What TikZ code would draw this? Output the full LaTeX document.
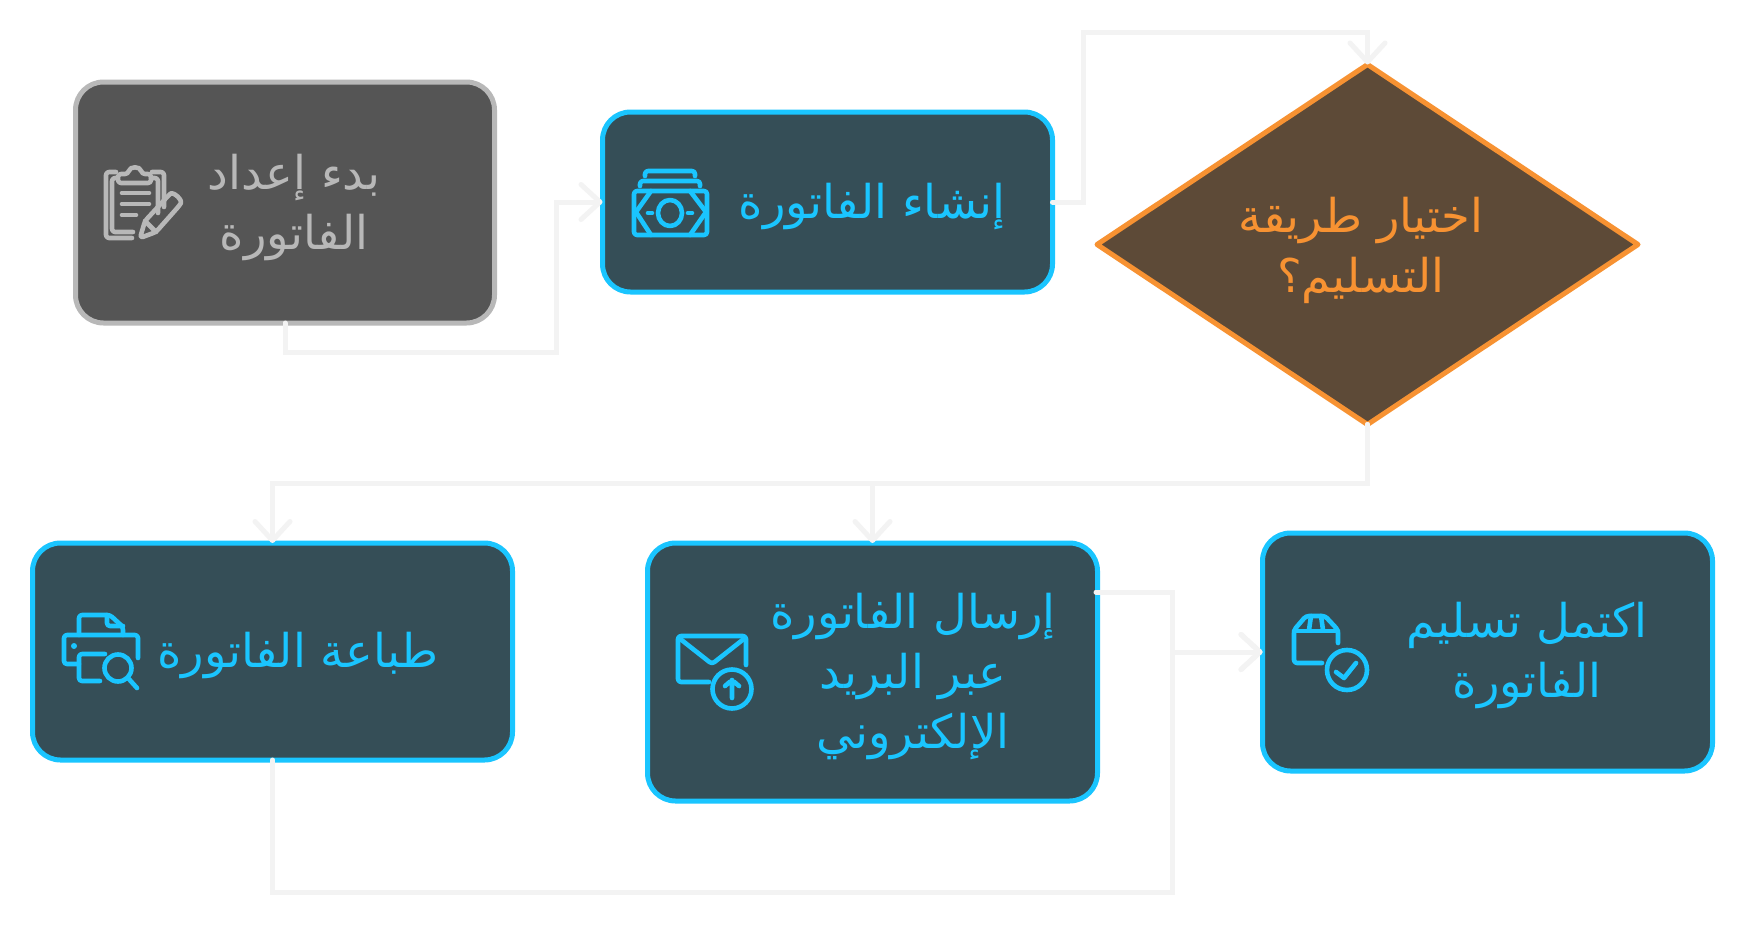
\documentclass[tikz,border=0pt]{standalone}
\usepackage{fontspec}
\usetikzlibrary{shapes.geometric,arrows.meta,calc}
\TeXXeTstate=1
\newfontfamily\arabicfont[Script=Arabic]{DejaVu Sans}
\newcommand{\arln}[1]{\beginR #1\endR}
\definecolor{linkc}{HTML}{F3F3F3}
\definecolor{graybg}{HTML}{555555}
\definecolor{graysk}{HTML}{B8B8B8}
\definecolor{bluebg}{HTML}{354E57}
\definecolor{bluesk}{HTML}{1AC5FF}
\definecolor{orgbg}{HTML}{5D4A37}
\definecolor{orgsk}{HTML}{F79232}
\tikzset{
 boxbase/.style={rectangle,rounded corners=28pt,inner sep=0pt,outer sep=0pt,line width=5pt},
 bluebox/.style={boxbase,draw=bluesk,fill=bluebg},
 graybox/.style={boxbase,draw=graysk,fill=graybg},
 decision/.style={diamond,aspect=1.51,inner sep=0pt,outer sep=0pt,line width=5pt,draw=orgsk,fill=orgbg,line join=round},
 lbl/.style={font=\arabicfont\fontsize{46.5}{60}\selectfont,align=center,inner sep=0pt},
 link/.style={draw=linkc,line width=5pt,line cap=round,line join=miter},
 arrowed/.style={link,-{Straight Barb[length=19pt,width=35pt,round]}},
 iconl/.style={line width=4.6pt,line cap=round,line join=round,rounded corners=3pt},
}
\begin{document}
\begin{tikzpicture}[x=1pt,y=-1pt]
\useasboundingbox[fill=white] (0,0) rectangle (1745,926);
% boxes
\node[graybox,minimum width=419pt,minimum height=241pt] (b1) at (285,202.5) {};
\node[bluebox,minimum width=450pt,minimum height=180pt] (b2) at (827.5,202) {};
\node[decision,minimum width=541pt,minimum height=360pt] (d) at (1367.5,244.5) {};
\node[bluebox,minimum width=480pt,minimum height=217pt] (b3) at (272.5,651.5) {};
\node[bluebox,minimum width=450pt,minimum height=258pt] (b4) at (872.5,672) {};
\node[bluebox,minimum width=450pt,minimum height=238pt] (b5) at (1487.5,652) {};
% labels
\node[lbl,text=graysk] (t1) at (294,208) {\arln{بدء إعداد}\\\arln{الفاتورة}};
\node[lbl,text=bluesk] (t2) at (872,207) {\arln{إنشاء الفاتورة}};
\node[lbl,text=orgsk] (t3) at (1361,250) {\arln{اختيار طريقة}\\\arln{التسليم؟}};
\node[lbl,text=bluesk] (t4) at (298,656) {\arln{طباعة الفاتورة}};
\node[lbl,text=bluesk] (t5) at (913,677) {\arln{إرسال الفاتورة}\\\arln{عبر البريد}\\\arln{الإلكتروني}};
\node[lbl,text=bluesk] (t6) at (1527,656) {\arln{اكتمل تسليم}\\\arln{الفاتورة}};
% routing points
\coordinate (c1a) at (285,352);
\coordinate (c1b) at (556.5,352);
\coordinate (c1c) at (556.5,202);
\coordinate (c2a) at (1083,202);
\coordinate (c2b) at (1083,32);
\coordinate (c2c) at (1367.5,32);
\coordinate (c3a) at (1367.5,483);
\coordinate (c3b) at (272.5,483);
\coordinate (c4a) at (872.5,483);
\coordinate (c5a) at (272.5,892);
\coordinate (c5b) at (1172.5,892);
\coordinate (c5c) at (1172.5,652);
\coordinate (c6s) at (1096,592);
\coordinate (c6a) at (1172.5,592);
% connectors
\draw[arrowed] (b1.south) -- (c1a) -- (c1b) -- (c1c) -- (b2.west);
\draw[arrowed] (b2.east) -- (c2a) -- (c2b) -- (c2c) -- (d.north);
\draw[arrowed] (d.south) -- (c3a) -- (c3b) -- (b3.north);
\draw[arrowed] (d.south) -- (c3a) -- (c4a) -- (b4.north);
\draw[arrowed] (b3.south) -- (c5a) -- (c5b) -- (c5c) -- (b5.west);
\draw[arrowed] (c6s) -- (c6a) -- (c5c) -- (b5.west);
% icon 1: clipboard and pencil
\begin{scope}[shift={(104,165)},iconl,draw=graysk]
\draw (12,7) -- (2,7) -- (2,73) -- (28,73);
\draw (13,13) -- (8,13) -- (8,67) -- (29,67);
\draw (48,7) -- (60,7) -- (60,42);
\draw (47,13) -- (54,13) -- (54,48);
\draw (14,18) -- (14,9) -- (24,9) .. controls (26,1) and (36,1) .. (38,9) -- (47,9) -- (47,18) -- cycle;
\draw (18,28) -- (45,28) (18,39) -- (45,39) (18,50) -- (32,50);
\draw (36,73) -- (41,56) -- (64,31) .. controls (69,26) and (79,35) .. (75,41) -- (52,67) -- cycle;
\draw (41,56) -- (52,67);
\end{scope}
% icon 2: money
\begin{scope}[shift={(632,169)},iconl,draw=bluesk]
\draw (13,7) -- (13,2) -- (63,2) -- (63,7);
\draw (8,17) -- (8,12) -- (68,12) -- (68,17);
\draw (2,22) rectangle (75,66);
\draw[rounded corners=0pt] (19,22) -- (4,43) -- (19,66) (58,22) -- (74,43) -- (58,66);
\draw (38,44) ellipse (12pt and 13pt);
\draw (16,44) -- (20,44) (56,44) -- (60,44);
\end{scope}
% icon 3: printer and magnifier
\begin{scope}[shift={(63,613)},iconl,draw=bluesk]
\draw (16,22) -- (16,2) -- (47,2) -- (60,14) -- (60,22);
\draw (44,2) -- (44,13) -- (60,13);
\draw (75,45) -- (75,22) -- (1,22) -- (1,51) -- (16,51);
\fill[bluesk] (11,33) circle (3pt);
\draw (42,41) -- (16,41) -- (16,68) -- (37,68);
\draw (55,55) circle (13.5pt);
\draw (65,65) -- (74,75);
\end{scope}
% icon 4: envelope
\begin{scope}[shift={(677,635)},iconl,draw=bluesk]
\draw (32,47) -- (1,47) -- (1,1) -- (69,1) -- (69,30);
\draw (2,3) -- (35,29) -- (68,3);
\draw (55,54) circle (19.5pt);
\draw (55,63) -- (55,45) (48,51) -- (55,45) -- (62,51);
\end{scope}
% icon 5: parcel with check
\begin{scope}[shift={(1292,615)},iconl,draw=bluesk]
\draw (30,48) -- (2,48) -- (2,15) -- (14,1) -- (33,1) -- (46,15) -- (46,28);
\draw (2,16) -- (46,16);
\draw (19,1) -- (17,15) (29,1) -- (31,15);
\draw (55,55) circle (20pt);
\draw[rounded corners=0pt] (44,57) -- (52,63) -- (64,48);
\end{scope}
\end{tikzpicture}
\end{document}
